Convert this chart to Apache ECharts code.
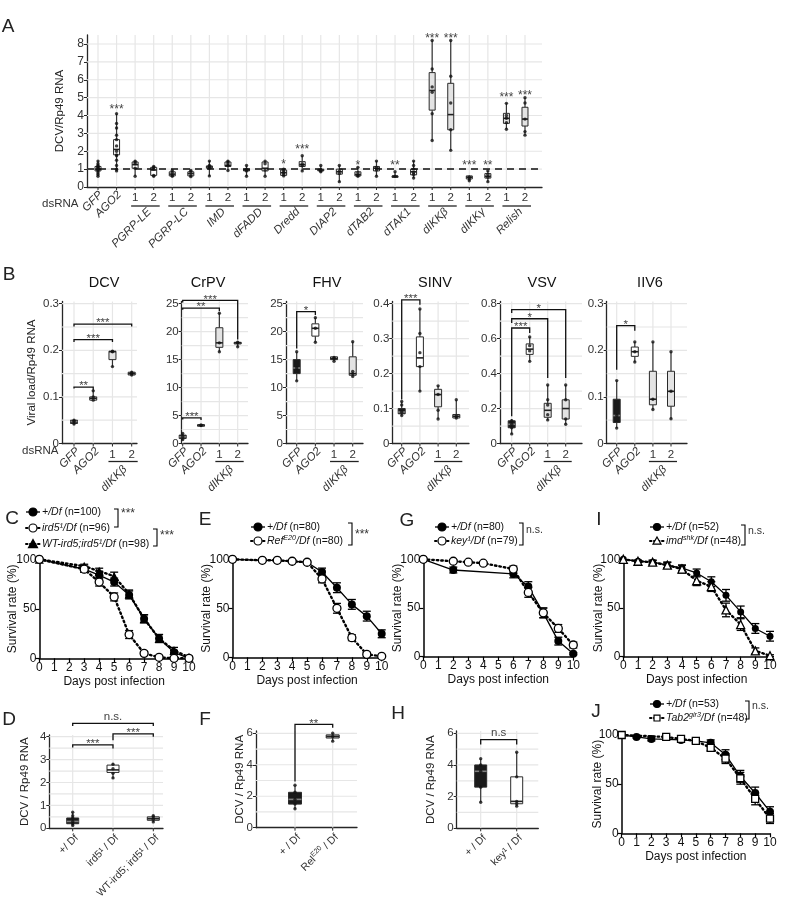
<!DOCTYPE html>
<html><head><meta charset="utf-8">
<script src="https://cdn.jsdelivr.net/npm/echarts@6.0.0/dist/echarts.min.js"></script>
<style>html,body{margin:0;padding:0;background:#fff}#c{width:790px;height:900px}</style>
</head><body><div id="c"></div>
<script>
const FONT = '"Liberation Sans", Arial, Helvetica, sans-serif';
const GRIDC = '#e6e6e6';
const AXC = '#262626';
const TXT = '#333333';

// ---------------- Panel A data ----------------
const aGroups = ['PGRP-LE','PGRP-LC','IMD','dFADD','Dredd','DIAP2','dTAB2','dTAK1','dIKKβ','dIKKγ','Relish'];
const aCats = ['GFP','AGO2'].concat(aGroups.flatMap(() => ['1','2']));
const aTicks = [0,1,2,3,4,5,6,7,8];
// [min, Q1, median, Q3, max]
const aBox = [
  [0.6,0.9,1.0,1.15,1.45],[0.9,1.8,2.1,2.65,4.1],
  [0.6,1.05,1.25,1.4,1.45],[0.6,0.65,0.95,1.1,1.15],
  [0.6,0.62,0.72,0.85,0.92],[0.58,0.62,0.75,0.85,0.92],
  [0.62,1.05,1.12,1.18,1.45],[0.92,1.15,1.2,1.4,1.45],
  [0.6,0.9,0.95,1.0,1.2],[0.6,0.9,1.05,1.4,1.45],
  [0.62,0.65,0.8,0.95,1.0],[0.9,1.15,1.25,1.42,1.75],
  [0.85,0.9,0.95,1.0,1.2],[0.3,0.72,0.85,1.0,1.2],
  [0.6,0.62,0.7,0.85,1.1],[0.6,0.9,1.05,1.15,1.45],
  [0.58,0.6,0.6,0.62,0.85],[0.5,0.68,0.85,1.0,1.45],
  [2.6,4.3,5.4,6.4,8.2],[2.05,3.2,4.05,5.8,8.2],
  [0.35,0.45,0.55,0.62,0.65],[0.3,0.5,0.6,0.75,0.9],
  [3.23,3.56,3.84,4.12,4.68],[2.9,3.41,3.8,4.46,5.0]
];
const aPoints = [
  [0.6,0.7,0.8,0.9,0.95,1.0,1.05,1.1,1.15,1.2,1.3,1.45],
  [0.9,1.0,1.2,1.5,1.75,1.8,2.0,2.3,2.65,2.9,3.3,3.55,4.1],
  [0.6,1.05,1.3,1.4,1.45],[0.6,0.65,1.0,1.1,1.15],
  [0.6,0.65,0.8,0.92],[0.58,0.65,0.85,0.92],
  [0.62,1.05,1.15,1.2,1.45],[0.92,1.2,1.3,1.4,1.45],
  [0.6,0.9,1.0,1.2],[0.6,0.95,1.3,1.45],
  [0.62,0.7,0.8,0.9,1.0],[0.9,1.2,1.3,1.75],
  [0.85,0.9,0.95,1.2],[0.3,0.75,0.9,1.2],
  [0.6,0.65,0.8,1.1],[0.6,0.95,1.1,1.45],
  [0.6,0.85],[0.5,0.7,0.8,1.0,1.2,1.45],
  [2.6,4.1,5.3,5.6,6.6,8.2],[2.05,3.2,4.7,6.2,8.2],
  [0.35,0.45,0.55],[0.3,0.55,0.7,0.9],
  [3.23,3.6,3.85,4.0,4.68],[2.9,3.1,3.8,4.7,5.0]
];
const aSig  = ['','***','','','','','','','','','*','***','','','*','','**','','***','***','***','**','***','***'];
const aSigY = [0,4.5,0,0,0,0,0,0,0,0,1.42,2.25,0,0,1.35,0,1.35,0,8.46,8.46,1.36,1.36,5.19,5.28];
const aFill = aCats.map((c,i) => (i >= 18 && i <= 19) || i >= 22 ? '#e3e3e3' : '#ffffff');

// ---------------- Panel B data ----------------
const bViruses = ['DCV','CrPV','FHV','SINV','VSV','IIV6'];
const bCats = ['GFP','AGO2','1','2'];
const bGroup = 'dIKKβ';
const bTopTick = [0.3,25,25,0.4,0.8,0.3];
const bTicks = [[0,0.1,0.2,0.3],[0,5,10,15,20,25],[0,5,10,15,20,25],[0,0.1,0.2,0.3,0.4],[0,0.2,0.4,0.6,0.8],[0,0.1,0.2,0.3]];
const bMinor = [[0.05,0.15,0.25],[2.5,7.5,12.5,17.5,22.5],[2.5,7.5,12.5,17.5,22.5],[0.05,0.15,0.25,0.35],[0.1,0.3,0.5,0.7],[0.05,0.15,0.25]];
const dcvBox  = [[0.04,0.043,0.047,0.05,0.052],[0.093,0.093,0.097,0.1,0.113],[0.165,0.18,0.197,0.198,0.198],[0.147,0.147,0.15,0.153,0.155]];
const crpvBox = [[0.6,0.9,1.2,1.5,1.8],[3.2,3.2,3.3,3.35,3.4],[16.4,17.2,18,20.7,23.3],[17.3,17.8,18,18.1,18.1]];
const fhvBox  = [[11.2,12.5,13.5,15,16.4],[18.1,19.2,20.6,21.4,22.5],[14.7,15,15.2,15.5,15.5],[12,12.2,12.5,15.5,18.2]];
const sinvBox = [[0.08,0.085,0.09,0.1,0.12],[0.15,0.22,0.245,0.305,0.385],[0.07,0.105,0.14,0.155,0.165],[0.073,0.073,0.078,0.083,0.125]];
const vsvBox  = [[0.055,0.09,0.11,0.13,0.14],[0.47,0.51,0.54,0.57,0.61],[0.135,0.15,0.19,0.23,0.335],[0.11,0.14,0.2,0.25,0.335]];
const iiv6Box = [[0.033,0.045,0.06,0.095,0.135],[0.175,0.187,0.197,0.207,0.218],[0.073,0.083,0.095,0.155,0.218],[0.053,0.08,0.112,0.155,0.197]];
const dcvPts  = [[0.042,0.047,0.05],[0.093,0.1,0.113],[0.165,0.197,0.198],[0.147,0.15,0.153]];
const crpvPts = [[0.7,1.2,1.8],[3.2,3.3],[16.4,18,23.3],[17.3,18,18.1]];
const fhvPts  = [[11.2,13.5,16.4],[18.1,20.6,22.5],[14.7,15.2,15.4],[12,12.5,12.9,18.2]];
const sinvPts = [[0.08,0.09,0.11,0.12],[0.15,0.22,0.26,0.315,0.385],[0.07,0.095,0.14,0.165],[0.073,0.078,0.125]];
const vsvPts  = [[0.055,0.09,0.11,0.13],[0.47,0.53,0.56,0.61],[0.135,0.165,0.22,0.25,0.335],[0.11,0.14,0.25,0.335]];
const iiv6Pts = [[0.033,0.06,0.135],[0.175,0.197,0.218],[0.073,0.095,0.218],[0.053,0.112,0.197]];
// [cat1, cat2, top, leg1 end, leg2 end, label]
const dcvSig  = [[0,1,0.121,0.118,0.113,'**'],[0,2,0.223,0.218,0.218,'***'],[0,3,0.256,0.251,0.251,'***']];
const crpvSig = [[0,1,4.6,4.3,4.2,'***'],[0,2,24.2,23.9,23.7,'**'],[0,3,25.6,25.2,18.6,'***']];
const fhvSig  = [[0,1,23.6,17.0,23.0,'*']];
const sinvSig = [[0,1,0.411,0.126,0.397,'***']];
const vsvSig  = [[0,1,0.661,0.156,0.632,'***'],[0,2,0.714,0.69,0.375,'*'],[0,3,0.766,0.747,0.375,'*']];
const iiv6Sig = [[0,1,0.253,0.158,0.242,'*']];
const bBoxes = [dcvBox,crpvBox,fhvBox,sinvBox,vsvBox,iiv6Box];
const bPts = [dcvPts,crpvPts,fhvPts,sinvPts,vsvPts,iiv6Pts];
const bSigs = [dcvSig,crpvSig,fhvSig,sinvSig,vsvSig,iiv6Sig];
const bFill = ['#1a1a1a','#ffffff','#e3e3e3','#e3e3e3'];

// ---------------- Panels D, F, H data ----------------
const dCats = ['+/ Df','ird5¹ / Df','WT-ird5; ird5¹ / Df'];
const dBox = [[0.12,0.2,0.3,0.45,0.7],[2.18,2.44,2.55,2.76,2.84],[0.28,0.35,0.42,0.5,0.55]];
const dPts = [[0.12,0.2,0.3,0.45,0.55,0.7],[2.2,2.4,2.6,2.8],[0.28,0.4,0.5,0.55]];
const dSig = [[0,1,3.64,3.53,3.49,'***'],[1,2,4.12,3.85,4.0,'***'],[0,2,4.58,4.47,4.47,'n.s.']];
const dTicks = [0,1,2,3,4];
const dMinor = [0.5,1.5,2.5,3.5];
const fCats = ['+ / Df','Rel^E20 / Df'];
const fBox = [[1.2,1.5,1.8,2.25,2.7],[5.5,5.7,5.8,5.9,6.0]];
const fPts = [[1.2,1.5,1.8,2.25,2.7],[5.5,5.8,6.0]];
const fSig = [[0,1,6.57,2.93,6.35,'**']];
const hCats = ['+ / Df','key¹ / Df'];
const hBox = [[1.65,2.6,3.6,4.0,4.4],[1.4,1.55,1.7,3.25,4.8]];
const hPts = [[1.65,2.6,3.6,4.0,4.4],[1.4,1.55,1.7,3.25,4.8]];
const hSig = [[0,1,5.6,5.3,5.3,'n.s']];
const fhTicks = [0,2,4,6];
const fhMinor = [1,3,5];

// ---------------- Survival data ----------------
const survTicksY = [0,50,100];
const cDays = [0,3,4,5,6,7,8,9,10];
const cWT = [100,90,84,77,64,40,20,6,0];        const cWTe = [0,3,4,4,4,4,4,2,0];
const cIrd = [100,90,77,62,24,5,1,0,0];         const cIrde = [0,3,4,4,4,2,1,0,0];
const cRes = [100,93,88,83,65,40,20,8,1];       const cRese = [0,2,3,4,4,4,4,3,1];
const cLeg = ['+/Df','ird5¹/Df','WT-ird5;ird5¹/Df']; const cN = ['(n=100)','(n=96)','(n=98)'];
const eDays = [0,2,3,4,5,6,7,8,9,10];
const eWT = [100,99,99,98,97,87,71,54,42,24];   const eWTe = [0,1,1,1,1,4,5,5,5,4];
const eRel = [100,99,99,98,97,80,50,20,3,1];    const eRele = [0,1,1,1,1,4,5,3,2,1];
const eLeg = ['+/Df','Ref^E20/Df']; const eN = ['(n=80)','(n=80)'];
const gDaysWT = [0,2,6,7,8,9,10];   const gWT = [100,89,85,72,45,16,3];  const gWTe = [0,3,4,5,5,4,1];
const gDaysKey = [0,2,3,4,6,7,8,9,10]; const gKey = [100,98,97,96,90,66,45,29,12]; const gKeye = [0,1,1,1,3,5,5,4,3];
const gLeg = ['+/Df','key¹/Df']; const gN = ['(n=80)','(n=79)'];
const iDays = [0,1,2,3,4,5,6,7,8,9,10];
const iWT = [100,98,97,94,91,86,77,63,46,29,21]; const iWTe = [0,1,2,3,3,4,5,6,6,5,5];
const iImd = [100,98,97,94,90,78,72,48,33,6,1];  const iImde = [0,1,2,3,4,5,5,7,6,3,1];
const iLeg = ['+/Df','imd^shk/Df']; const iN = ['(n=52)','(n=48)'];
const jDaysWT = [0,1,2,4,5,6,7,8,9,10]; const jWT = [100,98,96,95,94,92,80,58,41,22]; const jWTe = [0,1,2,2,2,3,5,6,6,5];
const jDaysTab = [0,3,4,5,6,7,8,9,10]; const jTab = [100,98,96,94,87,76,56,35,15]; const jTabe = [0,1,2,2,3,5,6,6,5];
const jLeg = ['+/Df','Tab2^gir3/Df']; const jN = ['(n=53)','(n=48)'];

// ---------------- builders ----------------
const grids = [], xAxes = [], yAxes = [], series = [], gfx = [];

function richLabel(s, base, sup) {
  return '{' + base + '|' + s.replace(/\^(\w+)/g, '}{' + sup + '|$1}{' + base + '|') + '}';
}
function richStyles(fs, italic, color) {
  const st = italic ? 'italic' : 'normal';
  return {
    a: {fontSize: fs, fontFamily: FONT, fontStyle: st, fill: color, color: color, lineHeight: fs + 3},
    s: {fontSize: fs * 0.68, fontFamily: FONT, fontStyle: st, fill: color, color: color, lineHeight: fs * 0.68, verticalAlign: 'top'}
  };
}

function ggPanel(p) {
  const gi = grids.length;
  const xMin = (p.left - p.x0) / p.step, xMax = (p.right - p.x0) / p.step;
  const yMax = p.topTick * (p.zeroY - p.topY) / (p.zeroY - p.topTickY);
  grids.push({left: p.left, top: p.topY, width: p.right - p.left, height: p.zeroY - p.topY});
  xAxes.push({gridIndex: gi, type: 'value', min: xMin, max: xMax,
    axisLine: {show: true, onZero: false, lineStyle: {color: AXC, width: 1.3}},
    axisTick: {show: false}, axisLabel: {show: false}, splitLine: {show: false}});
  yAxes.push({gridIndex: gi, type: 'value', min: 0, max: yMax,
    axisLine: {show: true, onZero: false, lineStyle: {color: AXC, width: 1.3}},
    axisTick: {show: true, length: 3, customValues: p.ticks, lineStyle: {color: AXC, width: 1}},
    axisLabel: {show: true, customValues: p.ticks, formatter: v => String(+v.toFixed(3)), fontSize: p.tickFs || 11, color: TXT, fontFamily: FONT, margin: 3},
    splitLine: {show: false},
    name: p.yName || '', nameLocation: 'middle', nameGap: p.nameGap || 20, nameMoveOverlap: false,
    nameTextStyle: {fontSize: 11.5, color: '#222', fontFamily: FONT}});
  const ax = {xAxisIndex: gi, yAxisIndex: gi, silent: true};
  const ncat = p.cats.length;
  // background grid + category ticks
  series.push(Object.assign({type: 'custom', z: 1, data: [[xMin, 0]],
    renderItem: function (params, api) {
      const ch = [];
      const y0 = api.coord([xMin, 0])[1], yT = api.coord([xMin, yMax])[1];
      const xL = api.coord([xMin, 0])[0], xR = api.coord([xMax, 0])[0];
      p.ticks.concat(p.minor || []).forEach(v => {
        if (v === 0) return;
        const y = api.coord([xMin, v])[1];
        ch.push({type: 'line', shape: {x1: xL, y1: y, x2: xR, y2: y}, style: {stroke: GRIDC, lineWidth: 1.2}});
      });
      for (let i = 0; i < ncat; i++) {
        const x = api.coord([i, 0])[0];
        ch.push({type: 'line', shape: {x1: x, y1: yT, x2: x, y2: y0}, style: {stroke: GRIDC, lineWidth: 1.2}});
        ch.push({type: 'line', shape: {x1: x, y1: y0, x2: x, y2: y0 + 3}, style: {stroke: AXC, lineWidth: 1}});
      }
      return {type: 'group', children: ch};
    }}, ax));
  // boxes
  series.push(Object.assign({type: 'custom', z: 4, data: p.boxes.map((b, i) => [i].concat(b)),
    renderItem: function (params, api) {
      const i = api.value(0);
      const v = [1, 2, 3, 4, 5].map(k => api.value(k));
      const cx = api.coord([i, v[2]])[0];
      const yy = v.map(val => api.coord([i, val])[1]);
      const w = p.boxW;
      const fill = p.fills[params.dataIndex];
      const dark = fill === '#1a1a1a';
      return {type: 'group', children: [
        {type: 'line', shape: {x1: cx, y1: yy[4], x2: cx, y2: yy[3]}, style: {stroke: '#333', lineWidth: 1.2}},
        {type: 'line', shape: {x1: cx, y1: yy[1], x2: cx, y2: yy[0]}, style: {stroke: '#333', lineWidth: 1.2}},
        {type: 'rect', shape: {x: cx - w / 2, y: yy[3], width: w, height: Math.max(yy[1] - yy[3], 1.5)}, style: {fill: fill, stroke: '#2a2a2a', lineWidth: 1}},
        {type: 'line', shape: {x1: cx - w / 2, y1: yy[2], x2: cx + w / 2, y2: yy[2]}, style: {stroke: dark ? '#808080' : '#222', lineWidth: 1.6}}
      ]};
    }}, ax));
  // points
  const pts = [];
  p.points.forEach((arr, i) => arr.forEach(v => pts.push([i, v])));
  const sc = Object.assign({type: 'scatter', z: 5, symbol: 'circle', symbolSize: p.ptSize || 3.2,
    itemStyle: {color: '#111'}, data: pts}, ax);
  if (p.refLine != null) {
    sc.markLine = {silent: true, symbol: 'none', label: {show: false},
      lineStyle: {type: [7, 5], color: '#111', width: 1.6}, data: [{yAxis: p.refLine}]};
  }
  series.push(sc);
  // significance brackets
  if (p.sig) {
    series.push(Object.assign({type: 'custom', z: 6, data: p.sig.map(s => s.slice(0, 5)),
      renderItem: function (params, api) {
        const s = p.sig[params.dataIndex];
        const a = api.coord([s[0], s[2]]), b = api.coord([s[1], s[2]]);
        const l1 = api.coord([s[0], s[3]])[1], l2 = api.coord([s[1], s[4]])[1];
        const star = s[5].indexOf('*') >= 0;
        return {type: 'group', children: [
          {type: 'polyline', shape: {points: [[a[0], l1], [a[0], a[1]], [b[0], b[1]], [b[0], l2]]}, style: {stroke: '#111', lineWidth: 1.3, fill: null}},
          {type: 'text', x: (a[0] + b[0]) / 2, y: a[1] - 1,
            style: {text: s[5], align: 'center', verticalAlign: star ? 'middle' : 'bottom', fontSize: 11.5, fontFamily: FONT, fill: '#444'}}
        ]};
      }}, ax));
  }
  // stars above boxes (panel A)
  if (p.stars) {
    series.push(Object.assign({type: 'custom', z: 6, data: p.starY.map((v, i) => [i, v]),
      renderItem: function (params, api) {
        const t = p.stars[params.dataIndex];
        if (!t) return null;
        const c = api.coord([api.value(0), api.value(1)]);
        return {type: 'text', x: c[0], y: c[1] + 3, style: {text: t, align: 'center', verticalAlign: 'middle', fontSize: 12, fontFamily: FONT, fill: '#444'}};
      }}, ax));
  }
  // category labels
  series.push(Object.assign({type: 'custom', z: 6, data: [[xMin, 0]],
    renderItem: function (params, api) {
      const ch = [];
      const y0 = api.coord([xMin, 0])[1];
      p.cats.forEach((c, i) => {
        const x = api.coord([i, 0])[0];
        if (/^\d$/.test(c)) {
          ch.push({type: 'text', x: x, y: y0 + p.numDy, style: {text: c, align: 'center', verticalAlign: 'middle', fontSize: p.labFs, fontFamily: FONT, fill: TXT}});
        } else {
          ch.push({type: 'text', x: x + p.rotDx, y: y0 + p.rotDy, rotation: Math.PI / 4,
            style: {text: richLabel(c, 'a', 's'), rich: richStyles(p.labFs, p.italic, TXT), align: 'right', verticalAlign: 'middle'}});
        }
      });
      (p.groups || []).forEach(g => {
        const x1 = api.coord([g.i1, 0])[0], x2 = api.coord([g.i2, 0])[0];
        ch.push({type: 'line', shape: {x1: x1 - 4, y1: y0 + p.ulDy, x2: x2 + 6, y2: y0 + p.ulDy}, style: {stroke: '#222', lineWidth: 1.3}});
        ch.push({type: 'text', x: (x1 + x2) / 2 + p.gDx, y: y0 + p.ulDy + p.gDy, rotation: Math.PI / 4,
          style: {text: g.name, align: 'right', verticalAlign: 'middle', fontSize: p.labFs, fontStyle: 'italic', fontFamily: FONT, fill: TXT}});
      });
      return {type: 'group', children: ch};
    }}, ax));
}

function survPanel(p) {
  const gi = grids.length;
  grids.push({left: p.left, top: p.top, width: p.right - p.left, height: p.bottom - p.top});
  xAxes.push({gridIndex: gi, type: 'value', min: 0, max: 10, interval: 1,
    axisLine: {show: true, onZero: false, lineStyle: {color: '#000', width: 1.5}},
    axisTick: {show: true, length: 4, lineStyle: {color: '#000', width: 1.2}},
    axisLabel: {fontSize: 12, color: '#111', fontFamily: FONT, margin: 3},
    splitLine: {show: false},
    name: 'Days post infection', nameLocation: 'middle', nameGap: 17, nameMoveOverlap: false,
    nameTextStyle: {fontSize: 12, color: '#111', fontFamily: FONT, verticalAlign: 'top'}});
  yAxes.push({gridIndex: gi, type: 'value', min: 0, max: 100,
    axisLine: {show: true, onZero: false, lineStyle: {color: '#000', width: 1.5}},
    axisTick: {show: true, length: 4, customValues: survTicksY, lineStyle: {color: '#000', width: 1.2}},
    axisLabel: {customValues: survTicksY, fontSize: 12, color: '#111', fontFamily: FONT, margin: 3},
    splitLine: {show: false},
    name: 'Survival rate (%)', nameLocation: 'middle', nameGap: p.nameGap || 22, nameMoveOverlap: false,
    nameTextStyle: {fontSize: 12, color: '#111', fontFamily: FONT}});
  const ax = {xAxisIndex: gi, yAxisIndex: gi, silent: true};
  p.groups.forEach((g, gIdx) => {
    series.push(Object.assign({type: 'custom', z: 2 + gIdx * 2, data: g.days.map((d, k) => [d, g.vals[k], g.err[k]]),
      renderItem: function (params, api) {
        const x = api.value(0), y = api.value(1), e = api.value(2);
        if (!e) return null;
        const t = api.coord([x, y + e]), b = api.coord([x, y - e]);
        const cw = 4;
        return {type: 'group', children: [
          {type: 'line', shape: {x1: t[0], y1: t[1], x2: b[0], y2: b[1]}, style: {stroke: '#000', lineWidth: 1.3}},
          {type: 'line', shape: {x1: t[0] - cw, y1: t[1], x2: t[0] + cw, y2: t[1]}, style: {stroke: '#000', lineWidth: 1.3}},
          {type: 'line', shape: {x1: b[0] - cw, y1: b[1], x2: b[0] + cw, y2: b[1]}, style: {stroke: '#000', lineWidth: 1.3}}
        ]};
      }}, ax));
    series.push(Object.assign({type: 'line', z: 3 + gIdx * 2, data: g.days.map((d, k) => [d, g.vals[k]]),
      symbol: g.symbol, symbolSize: g.size, showAllSymbol: true,
      lineStyle: g.dotted ? {color: '#000', width: 2.4, type: [1.5, 3], cap: 'round'} : {color: '#000', width: 1.3},
      itemStyle: g.open ? {color: '#fff', borderColor: '#000', borderWidth: 1.3} : {color: '#000', borderColor: '#000', borderWidth: 0}}, ax));
  });
}

// static helpers (graphic)
function txt(x, y, text, opt) {
  gfx.push({type: 'text', x: x, y: y, silent: true, style: Object.assign({text: text, fontSize: 11.5, fontFamily: FONT, fill: '#222', align: 'left', verticalAlign: 'middle'}, opt || {})});
}
const LEGFS = 10.5;
function legendRow(x, y, kind, open, dotted, label, n, size) {
  gfx.push({type: 'line', silent: true, shape: {x1: x - 7, y1: y, x2: x + 7, y2: y},
    style: dotted ? {stroke: '#000', lineWidth: 2, lineDash: [1.5, 2.5], lineCap: 'round'} : {stroke: '#000', lineWidth: 1.3}});
  const st = {fill: open ? '#fff' : '#000', stroke: '#000', lineWidth: 1.2};
  const r = (size || 8) / 2;
  if (kind === 'circle') gfx.push({type: 'circle', silent: true, shape: {cx: x, cy: y, r: r}, style: st});
  else if (kind === 'triangle') gfx.push({type: 'polygon', silent: true, shape: {points: [[x, y - r], [x + r, y + r * 0.8], [x - r, y + r * 0.8]]}, style: st});
  else gfx.push({type: 'rect', silent: true, shape: {x: x - r * 0.85, y: y - r * 0.85, width: r * 1.7, height: r * 1.7}, style: st});
  const rs = richStyles(LEGFS, true, '#111');
  rs.n = {fontSize: LEGFS, fontFamily: FONT, fontStyle: 'normal', fill: '#111', color: '#111', lineHeight: LEGFS + 3};
  gfx.push({type: 'text', silent: true, x: x + 9, y: y, style: {text: richLabel(label, 'a', 's') + '{n| ' + n + '}', rich: rs, align: 'left', verticalAlign: 'middle'}});
}
function legBracket(x, y1, y2, label, ty) {
  gfx.push({type: 'polyline', silent: true, shape: {points: [[x - 4, y1], [x, y1], [x, y2], [x - 4, y2]]}, style: {stroke: '#000', lineWidth: 1.1, fill: null}});
  txt(x + 3, ty, label, {fontSize: label.indexOf('*') >= 0 ? 12 : 10.5, fill: '#333'});
}

// ---------------- build Panel A ----------------
ggPanel({left: 87, right: 542, x0: 98, step: 18.565, zeroY: 187, topTickY: 44, topTick: 8, topY: 35,
  ticks: aTicks, minor: [], cats: aCats, boxes: aBox, points: aPoints, fills: aFill, boxW: 6, ptSize: 3.4,
  refLine: 1, stars: aSig, starY: aSigY, yName: 'DCV/Rp49 RNA', nameGap: 21, tickFs: 12,
  labFs: 11.5, italic: true, numDy: 10.7, rotDx: 3, rotDy: 6, ulDy: 19, gDx: 5, gDy: 4,
  groups: aGroups.map((g, k) => ({name: g, i1: 2 + 2 * k, i2: 3 + 2 * k}))});
txt(8, 27, 'A', {fontSize: 19, align: 'center'});
txt(42, 204, 'dsRNA', {fontSize: 11.5, fill: '#333'});

// ---------------- build Panel B ----------------
const bLayout = [
  {left: 62, right: 137, x0: 74, step: 19.23, title: 104},
  {left: 181.7, right: 248, x0: 182.7, step: 18.33, title: 208},
  {left: 286, right: 363, x0: 296.7, step: 18.67, title: 327},
  {left: 392.3, right: 469, x0: 401.7, step: 18.2, title: 435},
  {left: 500, right: 582, x0: 511.7, step: 18, title: 542},
  {left: 606.7, right: 687, x0: 616.7, step: 18.1, title: 650}];
bViruses.forEach((v, k) => {
  const L = bLayout[k];
  ggPanel({left: L.left, right: L.right, x0: L.x0, step: L.step, zeroY: 443.5, topTickY: 303.7, topTick: bTopTick[k], topY: 301.5,
    ticks: bTicks[k], minor: bMinor[k], cats: bCats, boxes: bBoxes[k], points: bPts[k], fills: bFill, boxW: 7, ptSize: 3.4,
    sig: bSigs[k], yName: k === 0 ? 'Viral load/Rp49 RNA' : '', nameGap: 24, tickFs: 11.5,
    labFs: 11.5, italic: true, numDy: 11, rotDx: 4, rotDy: 6, ulDy: 18, gDx: 3, gDy: 6,
    groups: [{name: bGroup, i1: 2, i2: 3}]});
  txt(L.title, 283, v, {fontSize: 14.5, align: 'center', fill: '#111'});
});
txt(9, 275, 'B', {fontSize: 19, align: 'center'});
txt(22, 451, 'dsRNA', {fontSize: 11.5, fill: '#333'});

// ---------------- Panels D, F, H ----------------
ggPanel({left: 49.3, right: 163, x0: 72.7, step: 40.3, zeroY: 828.3, topTickY: 736.7, topTick: 4, topY: 735,
  ticks: dTicks, minor: dMinor, cats: dCats, boxes: dBox, points: dPts, fills: ['#1a1a1a', '#ffffff', '#d9d9d9'], boxW: 12, ptSize: 3.4,
  sig: dSig, yName: 'DCV / Rp49 RNA', nameGap: 18, tickFs: 11.5, labFs: 10.5, italic: false, numDy: 10, rotDx: 4, rotDy: 8});
ggPanel({left: 256, right: 357, x0: 295, step: 37.7, zeroY: 827.7, topTickY: 733.3, topTick: 6, topY: 731,
  ticks: fhTicks, minor: fhMinor, cats: fCats, boxes: fBox, points: fPts, fills: ['#1a1a1a', '#dcdcdc'], boxW: 13, ptSize: 3.4,
  sig: fSig, yName: 'DCV / Rp49 RNA', nameGap: 10, tickFs: 11.5, labFs: 10.5, italic: false, numDy: 10, rotDx: 4, rotDy: 8});
ggPanel({left: 456.7, right: 538.3, x0: 480.7, step: 36, zeroY: 828.3, topTickY: 733.3, topTick: 6, topY: 731,
  ticks: fhTicks, minor: fhMinor, cats: hCats, boxes: hBox, points: hPts, fills: ['#1a1a1a', '#ffffff'], boxW: 12, ptSize: 3.4,
  sig: hSig, yName: 'DCV / Rp49 RNA', nameGap: 20, tickFs: 11.5, labFs: 10.5, italic: false, numDy: 10, rotDx: 4, rotDy: 8});
txt(9, 720, 'D', {fontSize: 19, align: 'center'});
txt(205, 720, 'F', {fontSize: 19, align: 'center'});
txt(398, 714, 'H', {fontSize: 19, align: 'center'});

// ---------------- Survival panels ----------------
survPanel({left: 39.3, top: 559.3, right: 189, bottom: 658.3, nameGap: 21, groups: [
  {days: cDays, vals: cWT, err: cWTe, symbol: 'circle', size: 8, open: false, dotted: false},
  {days: cDays, vals: cRes, err: cRese, symbol: 'triangle', size: 9, open: false, dotted: true},
  {days: cDays, vals: cIrd, err: cIrde, symbol: 'circle', size: 8, open: true, dotted: true}]});
survPanel({left: 232.5, top: 559.3, right: 381.7, bottom: 657.3, nameGap: 19.5, groups: [
  {days: eDays, vals: eWT, err: eWTe, symbol: 'circle', size: 8, open: false, dotted: false},
  {days: eDays, vals: eRel, err: eRele, symbol: 'circle', size: 8, open: true, dotted: true}]});
survPanel({left: 423.3, top: 559.3, right: 573.3, bottom: 656.7, nameGap: 20, groups: [
  {days: gDaysWT, vals: gWT, err: gWTe, symbol: 'circle', size: 8, open: false, dotted: false},
  {days: gDaysKey, vals: gKey, err: gKeye, symbol: 'circle', size: 8, open: true, dotted: true}]});
survPanel({left: 623.3, top: 559.3, right: 770, bottom: 656.7, nameGap: 19, groups: [
  {days: iDays, vals: iWT, err: iWTe, symbol: 'circle', size: 7, open: false, dotted: false},
  {days: iDays, vals: iImd, err: iImde, symbol: 'triangle', size: 8, open: true, dotted: true}]});
survPanel({left: 621.7, top: 735, right: 770, bottom: 833.3, nameGap: 18, groups: [
  {days: jDaysWT, vals: jWT, err: jWTe, symbol: 'circle', size: 8, open: false, dotted: false},
  {days: jDaysTab, vals: jTab, err: jTabe, symbol: 'rect', size: 7, open: true, dotted: true}]});

txt(12, 519, 'C', {fontSize: 19, align: 'center'});
txt(205, 520, 'E', {fontSize: 19, align: 'center'});
txt(407, 521, 'G', {fontSize: 19, align: 'center'});
txt(599, 520, 'I', {fontSize: 19, align: 'center'});
txt(596, 712, 'J', {fontSize: 19, align: 'center'});

legendRow(33, 512, 'circle', false, false, cLeg[0], cN[0], 8);
legendRow(33, 528, 'circle', true, true, cLeg[1], cN[1], 8);
legendRow(33, 544, 'triangle', false, true, cLeg[2], cN[2], 9);
legBracket(118, 509, 527, '***', 514);
legBracket(157, 529, 546, '***', 536);

legendRow(258, 527, 'circle', false, false, eLeg[0], eN[0], 8);
legendRow(258, 541, 'circle', true, true, eLeg[1], eN[1], 8);
legBracket(352, 523, 545, '***', 535);

legendRow(442, 527, 'circle', false, false, gLeg[0], gN[0], 8);
legendRow(442, 541, 'circle', true, true, gLeg[1], gN[1], 8);
legBracket(523, 523, 545, 'n.s.', 530);

legendRow(657, 527, 'circle', false, false, iLeg[0], iN[0], 7);
legendRow(657, 541, 'triangle', true, true, iLeg[1], iN[1], 8);
legBracket(745, 525, 545, 'n.s.', 531);

legendRow(657, 704, 'circle', false, false, jLeg[0], jN[0], 7);
legendRow(657, 718, 'rect', true, true, jLeg[1], jN[1], 7);
legBracket(749, 701, 719, 'n.s.', 706);

const chart = echarts.init(document.getElementById('c'), null, {renderer: 'canvas', width: 790, height: 900});
chart.setOption({
  animation: false,
  backgroundColor: '#ffffff',
  textStyle: {fontFamily: FONT},
  grid: grids, xAxis: xAxes, yAxis: yAxes, series: series,
  graphic: {elements: gfx}
});
</script></body></html>
